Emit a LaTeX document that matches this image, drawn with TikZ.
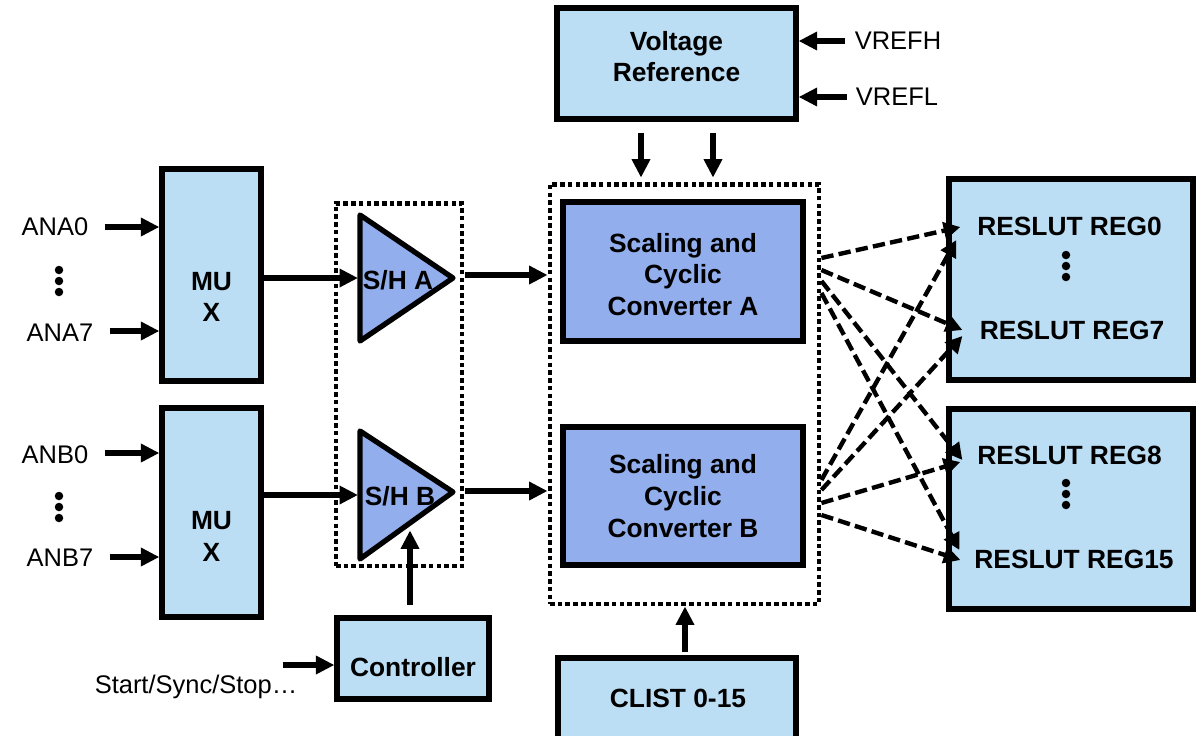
\documentclass[tikz,border=0pt]{standalone}
\usepackage{fontspec}
\setmainfont{Liberation Sans}
\usetikzlibrary{arrows.meta,calc}
\definecolor{boxblue}{RGB}{187,222,245}
\definecolor{convblue}{RGB}{146,174,236}
\tikzset{
	blk/.style={draw, line width=3pt, fill=boxblue, inner sep=0pt},
	cnv/.style={blk, fill=convblue},
	grp/.style={draw, line width=2.8pt, dash pattern=on 2.6pt off 1.8pt, inner sep=0pt},
	txt/.style={font=\fontsize{14.5}{18}\selectfont, inner sep=0pt},
	btxt/.style={font=\fontsize{15}{18}\selectfont\bfseries, align=center, inner sep=0pt},
	arr/.style={line width=3pt, -{Triangle[length=10.5pt,width=10pt]}},
	darr/.style={line width=2.5pt, dash pattern=on 7pt off 3pt, -{Triangle[length=9.5pt,width=9.5pt]}},
}
\def\tridot(#1){\foreach \d in {-11,0,11} \fill ($(#1)+(0,\d)$) circle (0.085cm);}

\begin{document}
\begin{tikzpicture}[x=0.02cm, y=-0.02cm]
		%%%%% START %%%%%
		\useasboundingbox (0,0) rectangle (1204,735);
		
		\node[grp, minimum width=2.52cm, minimum height=7.26cm] (shgrp) at (399,384.5) {};
		\node[grp, minimum width=5.38cm, minimum height=8.4cm] (cvgrp) at (684.5,394) {};
		
		\node[blk, minimum width=1.98cm, minimum height=4.24cm] (muxA) at (211.5,275) {};
		\node[btxt] at ($(muxA)+(0,22)$) {MU\\X};
		\node[blk, minimum width=1.98cm, minimum height=4.18cm] (muxB) at (211.5,512.5) {};
		\node[btxt] at ($(muxB)+(0,24)$) {MU\\X};
		
		\node[txt] (ana0) at (55,227) {ANA0};
		\node[txt] (ana7) at (60,333) {ANA7};
		\node[txt] (anb0) at (55,455) {ANB0};
		\node[txt] (anb7) at (60,558) {ANB7};
		\coordinate (anadots) at (59,281);
		\coordinate (anbdots) at (59,507);
		\tridot(anadots)
		\tridot(anbdots)
		\draw[arr] ($(ana0.east)+(16,0)$) -- (muxA.west |- ana0);
		\draw[arr] ($(ana7.east)+(16,-2)$) -- ($(muxA.west |- ana7)+(0,-2)$);
		\draw[arr] ($(anb0.east)+(16,-2)$) -- ($(muxB.west |- anb0)+(0,-2)$);
		\draw[arr] ($(anb7.east)+(16,-1)$) -- ($(muxB.west |- anb7)+(0,-1)$);
		
		% sample and hold
		\draw[line width=3pt, fill=convblue, line join=round] (360,215) -- (453,278) -- (360,341) -- cycle;
		\draw[line width=3pt, fill=convblue, line join=round] (360,431) -- (453,492) -- (360,559) -- cycle;
		\coordinate (shAin) at (358,278);
		\coordinate (shBin) at (358,495);
		\coordinate (shAout) at (453,275);
		\coordinate (shBout) at (453,491);
		\node[btxt] (shA) at (398,280) {S/H A};
		\node[btxt] (shB) at (400,496) {S/H B};
		\draw[arr] (muxA.east |- shAin) -- (shAin);
		\draw[arr] (muxB.east |- shBin) -- (shBin);
		
		\node[cnv, minimum width=4.8cm, minimum height=2.78cm] (convA) at (683,271.5) {};
		\node[btxt] at ($(convA)+(0,3)$) {Scaling and\\Cyclic\\Converter A};
		\node[cnv, minimum width=4.8cm, minimum height=2.76cm] (convB) at (683,496) {};
		\node[btxt] at ($(convB)+(0,0)$) {Scaling and\\Cyclic\\Converter B};
		\draw[arr] ($(shgrp.east |- shAout)+(1,0)$) -- (cvgrp.west |- shAout);
		\draw[arr] ($(shgrp.east |- shBout)+(1,0)$) -- (cvgrp.west |- shBout);
		
		% reference
		\node[blk, minimum width=4.78cm, minimum height=2.22cm] (vref) at (676.5,63.5) {};
		\node[btxt] at ($(vref)+(0,-7)$) {Voltage\\Reference};
		\node[txt] (vrefh) at (898,41) {VREFH};
		\node[txt] (vrefl) at (897,97) {VREFL};
		\draw[arr] ($(vrefh.west)+(-9,0)$) -- (vref.east |- vrefh);
		\draw[arr] ($(vrefl.west)+(-9,0)$) -- (vref.east |- vrefl);
		\draw[arr] ($(vref.south)+(-35.5,11)$) -- ++(0,45);
		\draw[arr] ($(vref.south)+(36.5,11)$) -- ++(0,45);
		
		% controller and list
		\node[blk, minimum width=3.04cm, minimum height=1.62cm] (ctrl) at (413,658.5) {};
		\node[btxt] at ($(ctrl)+(0,9)$) {Controller};
		\node[txt] (sss) at (196,687) {Start/Sync/Stop…};
		\draw[arr] ($(ctrl.west)+(-51,6.5)$) -- ($(ctrl.west)+(0,6.5)$);
		\draw[arr] ($(ctrl.north)+(-3,-10)$) -- ++(0,-75);
		
		\node[blk, minimum width=4.76cm, minimum height=2.04cm] (clist) at (677,709) {};
		\node[btxt] at (678,698) {CLIST 0-15};
		\draw[arr] ($(clist.north)+(8,-3)$) -- (cvgrp.south -| {$(clist.north)+(8,0)$});
		
		% result registers
		\node[blk, minimum width=4.88cm, minimum height=4.02cm] (regA) at (1071,279.5) {};
		\node[blk, minimum width=4.88cm, minimum height=4.0cm] (regB) at (1071,509) {};
		\node[btxt] (reg0) at (1069.5,226) {RESLUT REG0};
		\node[btxt] (reg7) at (1072,330) {RESLUT REG7};
		\node[btxt] (reg8) at (1069.5,455) {RESLUT REG8};
		\node[btxt] (reg15) at (1074,559) {RESLUT REG15};
		\coordinate (regAdots) at (1066,266);
		\coordinate (regBdots) at (1066,494);
		\tridot(regAdots)
		\tridot(regBdots)
		
		\draw[darr] ($(cvgrp.east |- convA)+(0,-13.5)$) -- ($(regA.west |- reg0)+(14,1)$);
		\draw[darr] ($(cvgrp.east |- convA)+(0,-1.5)$) -- ($(regA.west |- reg7)+(16,0)$);
		\draw[darr] ($(cvgrp.east |- convA)+(0,9.5)$) -- ($(regB.west |- reg8)+(16,5)$);
		\draw[darr] ($(cvgrp.east |- convA)+(0,21.5)$) -- ($(regB.west |- reg15)+(13,-9)$);
		\draw[darr] ($(cvgrp.east |- convB)+(0,-16)$) -- ($(regA.west |- reg0)+(10,14)$);
		\draw[darr] ($(cvgrp.east |- convB)+(0,-6)$) -- ($(regA.west |- reg7)+(16,6)$);
		\draw[darr] ($(cvgrp.east |- convB)+(0,7)$) -- ($(regB.west |- reg8)+(14,7)$);
		\draw[darr] ($(cvgrp.east |- convB)+(0,19)$) -- ($(regB.west |- reg15)+(14,1)$);
		
		%%%%% END %%%%%
\end{tikzpicture}
\end{document}
